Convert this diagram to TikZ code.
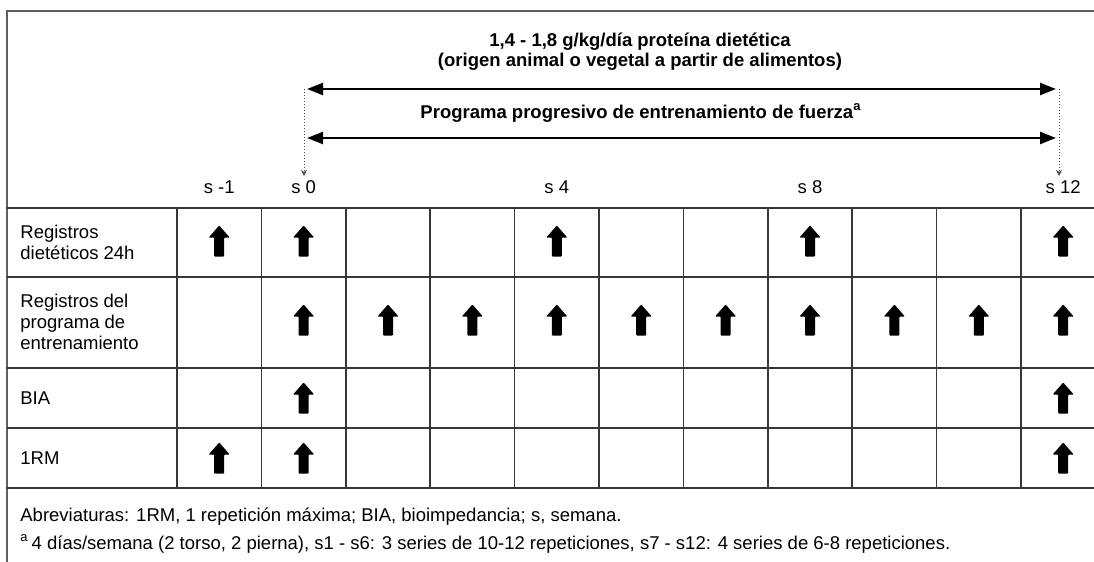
\documentclass[tikz,border=0pt]{standalone}
\usepackage{fontspec}
\setmainfont{Liberation Sans}
\usepackage{tikz}
\usetikzlibrary{arrows.meta, positioning, calc}
\definecolor{gridgray}{RGB}{55,55,55}
\definecolor{framegray}{RGB}{95,95,95}

\begin{document}
\begin{tikzpicture}[x=0.5pt, y=-0.5pt, every node/.style={inner sep=0pt, font=\fontsize{9.25}{10.5}\selectfont}]
  % Styles
  \tikzstyle{rowlabel} = [anchor=west, align=left]
  \tikzstyle{weeklabel} = [anchor=center]
  \tikzstyle{headline} = [align=center, font=\fontsize{9.25}{10}\selectfont\bfseries]
  \tikzstyle{period} = [line width=1.2pt, shorten <=1.5pt, shorten >=1.5pt, {Triangle[length=8pt,width=6pt]}-{Triangle[length=8pt,width=6pt]}]
  \tikzstyle{guide} = [densely dotted, line width=0.5pt, black!70, -{Stealth[length=3pt,width=3pt]}]
  \tikzstyle{gridline} = [line width=0.8pt, gridgray]
  \tikzset{upmark/.pic={\fill[black, rounded corners=0.4pt] (-5,15.5) -- (-5,-3.5) -- (-10.5,-3.5) -- (0,-15.5) -- (10.5,-3.5) -- (5,-3.5) -- (5,15.5) -- cycle;}}

  \fill[white] (0,0) rectangle (1094,562);
  \useasboundingbox (0,0) rectangle (1094,562);

  % Frame and table
  \draw[framegray, line width=1pt] (7,575) -- (7,11) -- (1110,11);
  \foreach \y in {208,277,368,428,488}
    \draw[gridline] (7,\y) -- (1110,\y);
  \foreach \k in {0,...,11}
    \draw[gridline] ({177+84.4*\k},208) -- ({177+84.4*\k},488);

  % Header texts
  \node[headline] (protein) at (640,52) {1,4 - 1,8 g/kg/día proteína dietética\\(origen animal o vegetal a partir de alimentos)};
  \node[headline] (program) at (641,113) {Programa progresivo de entrenamiento de fuerza\textsuperscript{a}};

  % Weeks
  \foreach \lab/\k in {s -1/0, s 0/1, s 4/4, s 8/7, s 12/10}
    \node[weeklabel] (w\k) at ({177+84.4*(\k+0.5)},187) {\lab};

  % Periods
  \coordinate (pstart) at (304,89);
  \coordinate (pend) at (1059,89);
  \coordinate (tstart) at (304,138);
  \coordinate (tend) at (1059,138);
  \coordinate (s0tip) at (304,176);
  \coordinate (s12tip) at (1059,176);
  \draw[period] (pstart) -- (pend);
  \draw[period] (tstart) -- (tend);
  \draw[guide] (pstart) -- (s0tip);
  \draw[guide] (pend) -- (s12tip);

  % Rows
  \node[rowlabel] (diet) at (20,242.5) {Registros\\dietéticos 24h};
  \node[rowlabel] (train) at (20,322) {Registros del\\programa de\\entrenamiento};
  \node[rowlabel] (bia) at (20,398) {BIA};
  \node[rowlabel] (rm) at (20,458) {1RM};

  % Measurements
  \foreach \k in {0,1,4,7,10}
    \pic at ({177+84.4*(\k+0.5)},241) {upmark};
  \foreach \k in {1,...,10}
    \pic at ({177+84.4*(\k+0.5)},320) {upmark};
  \foreach \k in {1,10}
    \pic at ({177+84.4*(\k+0.5)},398) {upmark};
  \foreach \k in {0,1,10}
    \pic at ({177+84.4*(\k+0.5)},458) {upmark};

  % Notes
  \node[rowlabel] (abbr) at (20,517) {Abreviaturas: 1RM, 1 repetición máxima; BIA, bioimpedancia; s, semana.};
  \node[rowlabel] (note) at (20,544) {\textsuperscript{a}\,4 días/semana (2 torso, 2 pierna), s1 - s6: 3 series de 10-12 repeticiones, s7 - s12: 4 series de 6-8 repeticiones.};
\end{tikzpicture}
\end{document}
